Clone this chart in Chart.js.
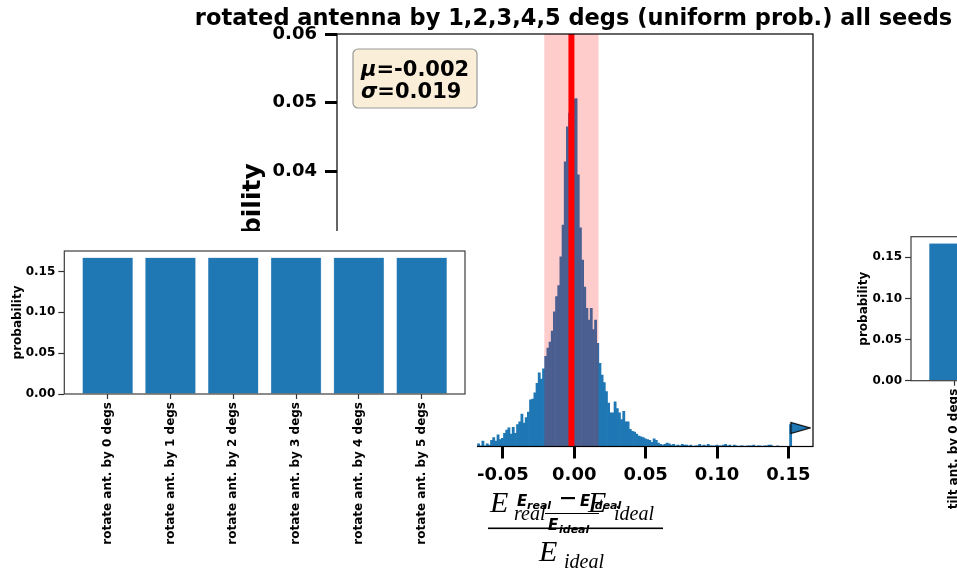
<!DOCTYPE html>
<html>
<head>
<meta charset="utf-8">
<script src="https://cdn.jsdelivr.net/npm/chart.js"></script>
<style>
  html, body { margin: 0; padding: 0; background: #fff; overflow: hidden; }
  body { width: 957px; height: 572px; position: relative; }
  canvas { position: absolute; }
  #histChart { left: 0; top: 0; }
  #rotateChart { left: 0; top: 231px; background: #fff; }
  #tiltChart { left: 835px; top: 226px; background: #fff; }
</style>
</head>
<body>
<canvas id="histChart" width="957" height="572"></canvas>
<canvas id="rotateChart" width="477" height="341"></canvas>
<canvas id="tiltChart" width="480" height="346"></canvas>
<script>
// ---- histogram data (error ratio, probability per bin) ----
const histTitle = 'rotated antenna by 1,2,3,4,5 degs (uniform prob.) all seeds';
const binStart = -0.06781;   // left edge of first visible bin
const binWidth = 0.001518;
const histHeights = [
  0.0004, 0.0001, 0.0008, 0.0001, 0.0004, 0.0002, 0.0009, 0.0013, 0.0008, 0.0017,
  0.0010, 0.0012, 0.0019, 0.0024, 0.0027, 0.0018, 0.0028, 0.0019, 0.0032, 0.0036,
  0.0047, 0.0034, 0.0042, 0.0050, 0.0068, 0.0069, 0.0078, 0.0092, 0.0107, 0.0098,
  0.0113, 0.0131, 0.0143, 0.0152, 0.0168, 0.0196, 0.0218, 0.0234, 0.0276, 0.0322,
  0.0414, 0.0465, 0.0485, 0.0498, 0.0505, 0.0506, 0.0395, 0.0318, 0.0271, 0.0232,
  0.0201, 0.0184, 0.0201, 0.0170, 0.0184, 0.0150, 0.0121, 0.0104, 0.0093, 0.0080,
  0.0063, 0.0049, 0.0049, 0.0065, 0.0055, 0.0049, 0.0039, 0.0051, 0.0036, 0.0036,
  0.0025, 0.0022, 0.0021, 0.0018, 0.0015, 0.0014, 0.0013, 0.0011, 0.0010, 0.0009,
  0.0006, 0.0011, 0.0009, 0.0005, 0.0003, 0.0002, 0.0003, 0.0005, 0.0004, 0.0002,
  0.0003, 0.0001, 0.0002, 0.0001, 0.0003, 0.0002, 0.0002, 0.0001, 0.0002, 0,
  0.0001, 0.0001, 0.0003, 0.0001, 0.0002, 0.0001, 0.0003, 0.0001, 0.0001, 0.0001,
  0.0002, 0.0001, 0.0001, 0.0002, 0.0003, 0.0001, 0.0002, 0, 0.0002, 0.0001,
  0, 0.0001, 0.0001, 0, 0.0001, 0.0001, 0.0001, 0.0002, 0, 0.0001,
  0.0001, 0, 0.0001, 0.0001, 0.0002, 0.0002, 0, 0, 0.0001, 0,
  0, 0, 0, 0, 0.0032
];
const histXTicks = [-0.15, -0.10, -0.05, 0.00, 0.05, 0.10, 0.15];
const histYTicks = [0, 0.01, 0.02, 0.03, 0.04, 0.05, 0.06];
const histXRange = [-0.1662, 0.1672];
const mu = -0.002;
const sigma = 0.019;
const outlierPoint = [{ x: 0.1584, y: 0.0027 }];

// ---- scenario probability bars ----
const rotateLabels = ['rotate ant. by 0 degs', 'rotate ant. by 1 degs', 'rotate ant. by 2 degs',
  'rotate ant. by 3 degs', 'rotate ant. by 4 degs', 'rotate ant. by 5 degs'];
const rotateProbs = [0.1667, 0.1667, 0.1667, 0.1667, 0.1667, 0.1667];
const tiltLabels = ['tilt ant. by 0 degs', 'tilt ant. by 1 degs', 'tilt ant. by 2 degs',
  'tilt ant. by 3 degs', 'tilt ant. by 4 degs', 'tilt ant. by 5 degs'];
const tiltProbs = [0.1667, 0.1667, 0.1667, 0.1667, 0.1667, 0.1667];
const barYTicks = [0, 0.05, 0.10, 0.15];

Chart.defaults.font.family = '"DejaVu Sans", sans-serif';
Chart.defaults.font.weight = 'bold';
Chart.defaults.color = '#000';

const blue = '#1f77b4';

// box round the plot area
const framePlugin = {
  id: 'frame',
  afterDraw(chart, args, opts) {
    const { ctx, chartArea: a } = chart;
    ctx.save();
    ctx.strokeStyle = opts.color;
    ctx.lineWidth = opts.width;
    ctx.strokeRect(a.left, a.top, a.right - a.left, a.bottom - a.top);
    ctx.restore();
  }
};

// marker for the far outlier
const flagMarker = document.createElement('canvas');
flagMarker.width = 22;
flagMarker.height = 14;
(function () {
  const fc = flagMarker.getContext('2d');
  fc.beginPath();
  fc.moveTo(1.5, 1.5);
  fc.lineTo(20.5, 7);
  fc.lineTo(1.5, 12.5);
  fc.closePath();
  fc.fillStyle = blue;
  fc.fill();
  fc.strokeStyle = '#000';
  fc.lineWidth = 1.2;
  fc.stroke();
})();

function drawMathLabel(ctx) {
  ctx.save();
  ctx.fillStyle = '#000';
  ctx.textBaseline = 'alphabetic';
  const big = 'italic 30px "Liberation Serif"';
  const sub = 'italic 20px "Liberation Serif"';
  ctx.font = big; ctx.fillText('E', 490, 512);
  ctx.font = sub; ctx.fillText('real', 514, 520);
  ctx.font = big; ctx.fillText('E', 588, 512);
  ctx.font = sub; ctx.fillText('ideal', 614, 520);
  ctx.fillRect(488, 527.5, 175, 1.6);
  ctx.font = big; ctx.fillText('E', 539, 561);
  ctx.font = sub; ctx.fillText('ideal', 564, 568);
  // the small bold copy printed over it
  const sb = 'italic bold 15px "DejaVu Sans"';
  const ss = 'italic bold 11px "DejaVu Sans"';
  ctx.font = sb; ctx.fillText('E', 517, 506);
  ctx.font = ss; ctx.fillText('real', 527, 509);
  ctx.fillRect(561, 497, 14, 2.2);
  ctx.font = sb; ctx.fillText('E', 580, 506);
  ctx.font = ss; ctx.fillText('ideal', 591, 509);
  ctx.fillRect(545, 513, 54, 1);
  ctx.font = sb; ctx.fillText('E', 548, 530);
  ctx.font = ss; ctx.fillText('ideal', 559, 533);
  ctx.restore();
}

const histDecor = {
  id: 'histDecor',
  afterDatasetsDraw(chart) {
    const { ctx, chartArea: a, scales: { x } } = chart;
    ctx.save();
    const lo = x.getPixelForValue(mu - sigma);
    const hi = x.getPixelForValue(mu + sigma);
    ctx.fillStyle = 'rgba(255,0,0,0.2)';
    ctx.fillRect(lo, a.top, hi - lo, a.bottom - a.top);
    ctx.fillStyle = '#ff0000';
    const m = x.getPixelForValue(mu);
    ctx.fillRect(m - 3, a.top, 6, a.bottom - a.top);
    ctx.restore();
  },
  afterDraw(chart) {
    const { ctx, chartArea: a } = chart;
    ctx.save();
    // title
    ctx.font = 'bold 22.5px "DejaVu Sans"';
    ctx.textAlign = 'center';
    ctx.textBaseline = 'alphabetic';
    ctx.fillStyle = '#000';
    ctx.fillText(histTitle, (a.left + a.right) / 2 - 1.5, 25);
    // stats box
    const bx = a.left + 16, by = a.top + 15, bw = 124, bh = 59;
    ctx.beginPath();
    ctx.roundRect(bx, by, bw, bh, 5);
    ctx.fillStyle = 'rgba(245,222,179,0.5)';
    ctx.fill();
    ctx.strokeStyle = '#9a9a9a';
    ctx.lineWidth = 1.2;
    ctx.stroke();
    ctx.textAlign = 'left';
    ctx.fillStyle = '#000';
    const rows = [['\u03bc', '=' + mu.toFixed(3)], ['\u03c3', '=' + sigma.toFixed(3)]];
    rows.forEach((r, i) => {
      const ty = by + 27 + i * 22;
      ctx.font = 'italic bold 21px "DejaVu Sans"';
      ctx.fillText(r[0], bx + 8, ty);
      const w = ctx.measureText(r[0]).width;
      ctx.font = 'bold 21px "DejaVu Sans"';
      ctx.fillText(r[1], bx + 8 + w, ty);
    });
    ctx.restore();
    drawMathLabel(ctx);
  }
};

new Chart(document.getElementById('histChart'), {
  type: 'bar',
  data: {
    datasets: [
      {
        type: 'scatter',
        data: outlierPoint,
        pointStyle: flagMarker,
        pointRadius: 10,
        order: 0
      },
      {
        data: histHeights.map((h, i) => ({ x: binStart + (i + 0.5) * binWidth, y: h })),
        backgroundColor: blue,
        borderWidth: 0,
        barPercentage: 1,
        categoryPercentage: 1,
        order: 1
      }
    ]
  },
  options: {
    responsive: false,
    animation: false,
    layout: { padding: { left: 220, top: 34, right: 144, bottom: 0 } },
    plugins: {
      legend: { display: false },
      tooltip: { enabled: false },
      frame: { color: '#000', width: 1.2 }
    },
    scales: {
      x: {
        type: 'linear',
        offset: false,
        min: histXRange[0],
        max: histXRange[1],
        afterBuildTicks: s => { s.ticks = histXTicks.map(v => ({ value: v })); },
        afterFit: s => { s.height = 125.5; },
        border: { display: false },
        grid: { offset: false, drawOnChartArea: false, tickLength: 12, tickWidth: 3, tickColor: '#000' },
        ticks: { padding: 6, font: { size: 18, weight: 'bold' }, maxRotation: 0, callback: v => v.toFixed(2) }
      },
      y: {
        min: 0,
        max: 0.06,
        afterBuildTicks: s => { s.ticks = histYTicks.map(v => ({ value: v })); },
        afterFit: s => { s.width = 117; },
        border: { display: false },
        grid: { drawOnChartArea: false, tickLength: 12, tickWidth: 3, tickColor: '#000' },
        ticks: { padding: 8, font: { size: 18, weight: 'bold' }, callback: v => v.toFixed(2) },
        title: {
          display: true,
          text: 'probability',
          font: { size: 25, weight: 'bold' },
          padding: { top: 18, bottom: 0 }
        }
      }
    }
  },
  plugins: [framePlugin, histDecor]
});

function makeProbChart(id, labels, probs, area, titlePad) {
  const canvas = document.getElementById(id);
  return new Chart(canvas, {
    type: 'bar',
    data: {
      datasets: [{
        data: probs.map((p, i) => ({ x: i, y: p })),
        backgroundColor: blue,
        borderColor: '#8fb8d8',
        borderWidth: 0.6,
        barThickness: 50
      }]
    },
    options: {
      responsive: false,
      animation: false,
      layout: { padding: { left: 0, top: area.top, right: canvas.width - area.right, bottom: 0 } },
      plugins: {
        legend: { display: false },
        tooltip: { enabled: false },
        frame: { color: '#3c3c3c', width: 1.2 }
      },
      scales: {
        x: {
          type: 'linear',
          offset: false,
          min: -0.69,
          max: labels.length - 0.31,
          afterBuildTicks: s => { s.ticks = labels.map((l, i) => ({ value: i })); },
          afterFit: s => { s.height = canvas.height - area.bottom; },
          border: { display: false },
          grid: { offset: false, drawOnChartArea: false, tickLength: 5, tickWidth: 1.2, tickColor: '#333' },
          ticks: {
            autoSkip: false,
            minRotation: 90,
            maxRotation: 90,
            padding: 3,
            font: { size: 12, weight: 'bold' },
            callback: v => labels[v]
          }
        },
        y: {
          min: 0,
          max: 0.175,
          afterBuildTicks: s => { s.ticks = barYTicks.map(v => ({ value: v })); },
          afterFit: s => { s.width = area.left; },
          border: { display: false },
          grid: { drawOnChartArea: false, tickLength: 6, tickWidth: 1.2, tickColor: '#333' },
          ticks: { padding: 3, font: { size: 12, weight: 'bold' }, callback: v => v.toFixed(2) },
          title: {
            display: true,
            text: 'probability',
            font: { size: 12, weight: 'bold' },
            padding: { top: titlePad, bottom: 0 }
          }
        }
      }
    },
    plugins: [framePlugin]
  });
}

makeProbChart('rotateChart', rotateLabels, rotateProbs, { left: 64.3, top: 20, right: 465, bottom: 163 }, 10.6);
makeProbChart('tiltChart', tiltLabels, tiltProbs, { left: 76, top: 10.7, right: 476.7, bottom: 154.7 }, 21.8);
</script>
</body>
</html>
